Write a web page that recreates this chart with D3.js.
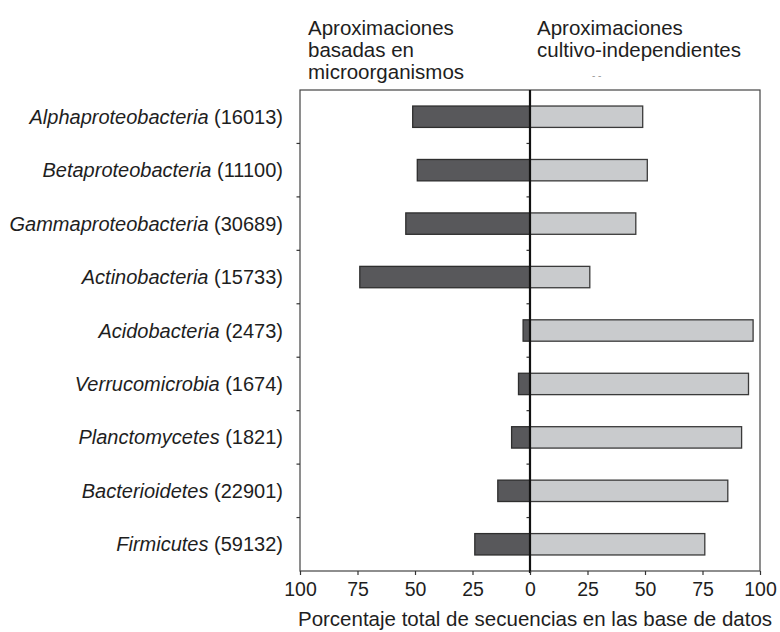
<!DOCTYPE html>
<html>
<head>
<meta charset="utf-8">
<script src="https://cdn.jsdelivr.net/npm/d3@7"></script>
<style>
  body { margin: 0; background: #fff; }
  text { font-family: "Liberation Sans", Arial, sans-serif; fill: #1e1e1e; }
</style>
</head>
<body>
<div id="chart"></div>
<script>
// data
const categories = ["Alphaproteobacteria", "Betaproteobacteria", "Gammaproteobacteria", "Actinobacteria",
  "Acidobacteria", "Verrucomicrobia", "Planctomycetes", "Bacterioidetes", "Firmicutes"];
const counts = [16013, 11100, 30689, 15733, 2473, 1674, 1821, 22901, 59132];
const cultureBased = [51, 49, 54, 74, 3, 5, 8, 14, 24];
const cultureIndependent = [49, 51, 46, 26, 97, 95, 92, 86, 76];
const tickValues = [-100, -75, -50, -25, 0, 25, 50, 75, 100];
const leftHeader = ["Aproximaciones", "basadas en", "microorganismos"];
const rightHeader = ["Aproximaciones", "cultivo-independientes"];
const xTitle = "Porcentaje total de secuencias en las base de datos";

const W = 780, H = 632;
const margin = { top: 90, right: 20, bottom: 61, left: 300 };
const innerW = W - margin.left - margin.right;
const innerH = H - margin.top - margin.bottom;

const svg = d3.select('#chart').append('svg')
  .attr('width', W)
  .attr('height', H);

const x = d3.scaleLinear().domain([-100, 100]).range([margin.left, margin.left + innerW]);
const y = d3.scaleBand().domain(categories).range([margin.top, margin.top + innerH]).padding(0);
const barH = y.bandwidth() * 0.4;

function label(tx, ty, size, anchor) {
  return svg.append('text')
    .attr('x', tx).attr('y', ty)
    .attr('text-anchor', anchor || 'start')
    .style('font-size', size + 'px');
}

// bars
const rows = categories.map((c, i) => ({ cat: c, left: cultureBased[i], right: cultureIndependent[i] }));
const g = svg.append('g');
g.selectAll('rect.left').data(rows).enter().append('rect')
  .attr('class', 'left')
  .attr('x', d => x(-d.left))
  .attr('y', d => y(d.cat) + (y.bandwidth() - barH) / 2)
  .attr('width', d => x(0) - x(-d.left))
  .attr('height', barH)
  .attr('fill', '#58585b')
  .attr('stroke', '#2e2e2e')
  .attr('stroke-width', 1.3);
g.selectAll('rect.right').data(rows).enter().append('rect')
  .attr('class', 'right')
  .attr('x', x(0))
  .attr('y', d => y(d.cat) + (y.bandwidth() - barH) / 2)
  .attr('width', d => x(d.right) - x(0))
  .attr('height', barH)
  .attr('fill', '#c9cbcd')
  .attr('stroke', '#3a3a3a')
  .attr('stroke-width', 1.3);

// frame
svg.append('rect')
  .attr('x', margin.left).attr('y', margin.top)
  .attr('width', innerW).attr('height', innerH)
  .attr('fill', 'none').attr('stroke', '#444').attr('stroke-width', 1.2);

// band separator ticks on left frame and centre line
const bounds = categories.slice(1).map(c => y(c));
[margin.left, x(0)].forEach(px => {
  svg.selectAll(null).data(bounds).enter().append('line')
    .attr('x1', px - 3.5).attr('x2', px)
    .attr('y1', d => d).attr('y2', d => d)
    .attr('stroke', '#333').attr('stroke-width', 1.2);
});

// centre line
svg.append('line')
  .attr('x1', x(0)).attr('x2', x(0))
  .attr('y1', margin.top).attr('y2', margin.top + innerH + 2)
  .attr('stroke', '#111').attr('stroke-width', 2.2);

// bottom axis
const xAxis = svg.append('g')
  .attr('transform', `translate(0,${margin.top + innerH})`)
  .call(d3.axisBottom(x).tickValues(tickValues).tickSize(4).tickSizeOuter(0).tickFormat(d => Math.abs(d)));
xAxis.select('.domain').remove();
xAxis.selectAll('.tick line').attr('stroke', '#333').attr('stroke-width', 1.2);
xAxis.selectAll('.tick text')
  .attr('y', 25).attr('dy', 0)
  .style('font-family', '"Liberation Sans", Arial, sans-serif')
  .style('font-size', '19.5px')
  .attr('fill', '#1e1e1e');
label(535, 626, 20.5, 'middle').text(xTitle);

// category labels
categories.forEach((c, i) => {
  const t = label(283, y(c) + y.bandwidth() / 2 + 7, 20, 'end');
  t.append('tspan').style('font-style', 'italic').text(c);
  t.append('tspan').text(' (' + counts[i] + ')');
});

// headers
leftHeader.forEach((s, i) => label(308, 35 + i * 22, 20.5).text(s));
rightHeader.forEach((s, i) => label(537, 35 + i * 22, 20.5).text(s));
svg.append('text').attr('x', 592).attr('y', 79).style('font-size', '10px').style('fill', '#999').text('- -');
</script>
</body>
</html>
